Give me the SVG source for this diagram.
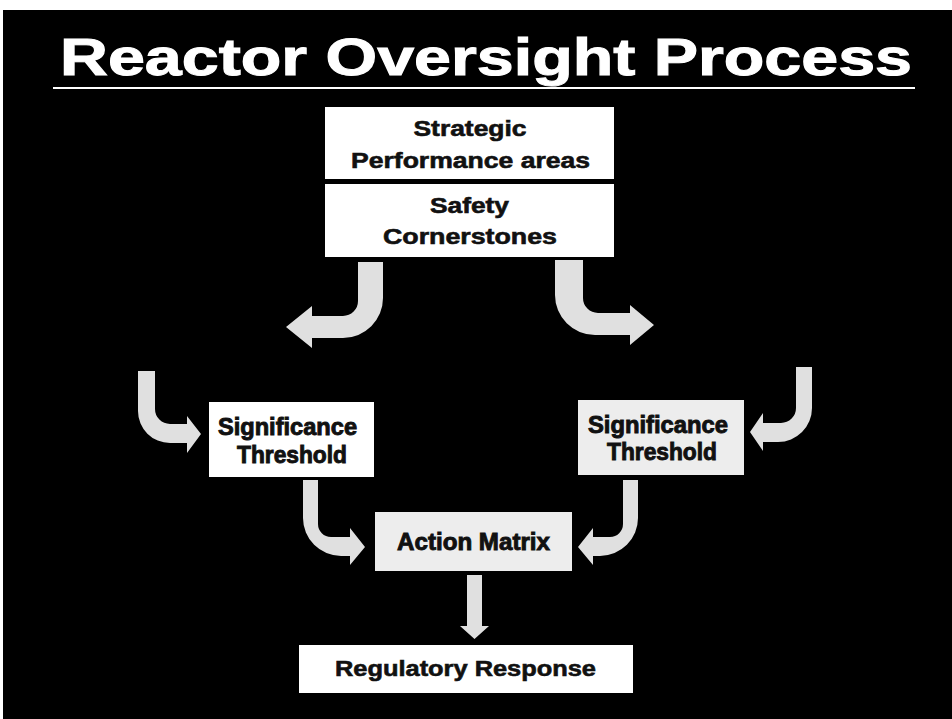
<svg xmlns="http://www.w3.org/2000/svg" width="952" height="719" viewBox="0 0 952 719">
  <style>
    text { font-family: "Liberation Sans", Arial, sans-serif; font-weight: bold; fill: #111; text-anchor: middle; stroke: #111; stroke-width: 0.6px; }
    .title { fill: #fff; stroke: #fff; stroke-width: 1px; font-size: 52px; }
    .lbl { font-size: 22px; }
    .lbl2 { font-size: 23px; stroke-width: 0.9px; }
    .box { fill: #fff; }
    .boxg { fill: #ededed; }
    .arrow { fill: #e0e0e0; }
  </style>
  <rect x="0" y="0" width="952" height="719" fill="#fff"/>
  <rect x="3" y="10" width="949" height="709" fill="#000"/>

  <g id="title">
    <text class="title" x="486" y="75" textLength="852" lengthAdjust="spacingAndGlyphs">Reactor Oversight Process</text>
    <line x1="53" y1="88" x2="915" y2="88" stroke="#fff" stroke-width="2"/>
  </g>

  <g id="strategic">
    <rect class="box" x="325" y="107" width="289" height="72"/>
    <text class="lbl" x="470" y="136" textLength="113" lengthAdjust="spacingAndGlyphs">Strategic</text>
    <text class="lbl" x="470.5" y="168" textLength="239" lengthAdjust="spacingAndGlyphs">Performance areas</text>
  </g>

  <g id="safety">
    <rect class="box" x="325" y="184" width="289" height="73"/>
    <text class="lbl" x="469.5" y="213" textLength="79" lengthAdjust="spacingAndGlyphs">Safety</text>
    <text class="lbl" x="470" y="244" textLength="174" lengthAdjust="spacingAndGlyphs">Cornerstones</text>
  </g>

  <g id="sig-left">
    <rect class="box" x="209" y="402" width="165" height="75"/>
    <text class="lbl2" x="287.5" y="435" textLength="139" lengthAdjust="spacingAndGlyphs">Significance</text>
    <text class="lbl2" x="292" y="463" textLength="110" lengthAdjust="spacingAndGlyphs">Threshold</text>
  </g>

  <g id="sig-right">
    <rect class="boxg" x="578" y="400" width="166" height="75"/>
    <text class="lbl2" x="658" y="433" textLength="140" lengthAdjust="spacingAndGlyphs">Significance</text>
    <text class="lbl2" x="662" y="460" textLength="110" lengthAdjust="spacingAndGlyphs">Threshold</text>
  </g>

  <g id="action-matrix">
    <rect class="boxg" x="375" y="512" width="197" height="59"/>
    <text class="lbl2" x="473.5" y="550" textLength="153" lengthAdjust="spacingAndGlyphs">Action Matrix</text>
  </g>

  <g id="regulatory-response">
    <rect class="box" x="299" y="645" width="334" height="48"/>
    <text class="lbl" x="465.5" y="676" textLength="261" lengthAdjust="spacingAndGlyphs">Regulatory Response</text>
  </g>

  <g id="connectors">
    <path class="arrow" d="M358,262 L383,262 L383,298 A40,40 0 0 1 343,338 L312,338 L312,348 L286,327 L312,306 L312,316 L343,316 A15,15 0 0 0 358,301 Z"/>
    <path class="arrow" d="M555,260 L583,260 L583,298 A15,15 0 0 0 598,313 L630,313 L630,305 L654,325 L630,345 L630,335 L595,335 A40,40 0 0 1 555,295 Z"/>
    <path class="arrow" d="M138,371 L155,371 L155,409 A15,15 0 0 0 170,424 L187,424 L187,416 L201,434 L187,453 L187,443 L170,443 A32,32 0 0 1 138,411 Z"/>
    <path class="arrow" d="M796,367 L812,367 L812,408 A34,34 0 0 1 778,442 L763,442 L763,451 L750,432 L763,413 L763,423 L781,423 A15,15 0 0 0 796,408 Z"/>
    <path class="arrow" d="M303,480 L318,480 L318,524 A13,13 0 0 0 331,537 L350,537 L350,528 L365,547 L350,565 L350,556 L341,556 A38,38 0 0 1 303,518 Z"/>
    <path class="arrow" d="M623,480 L638,480 L638,518 A38,38 0 0 1 600,556 L593,556 L593,565 L578,547 L593,528 L593,537 L610,537 A13,13 0 0 0 623,524 Z"/>
    <path class="arrow" d="M467,575 L482,575 L482,626 L489,626 L474.5,639 L460,626 L467,626 Z"/>
  </g>
</svg>
